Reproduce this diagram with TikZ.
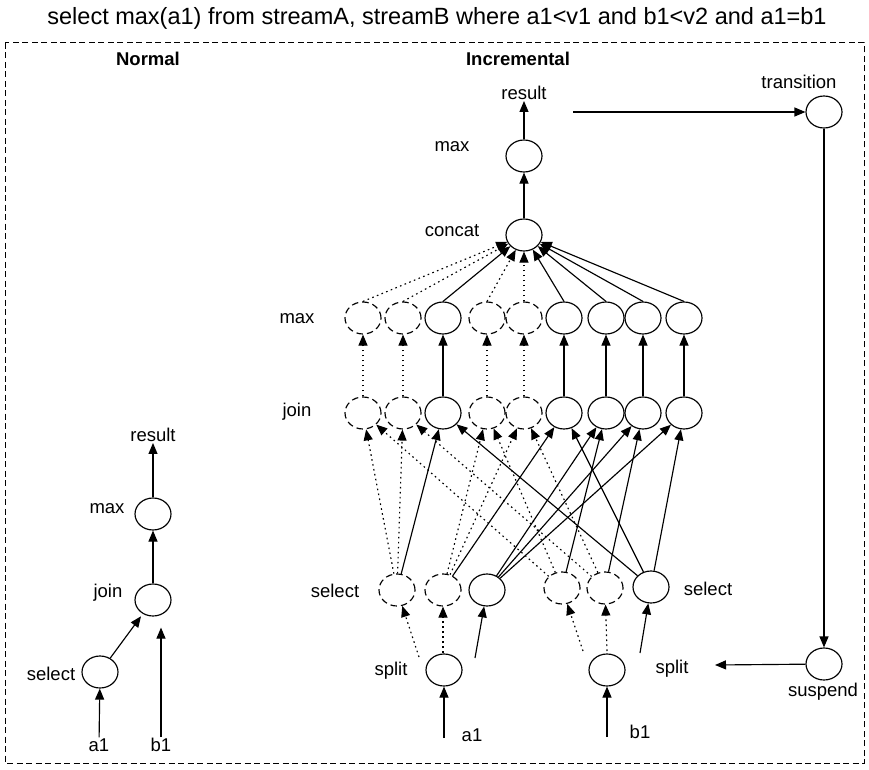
\documentclass[tikz,border=0pt]{standalone}
\usepackage{fontspec}
\setmainfont{Liberation Sans}
\usetikzlibrary{arrows.meta,calc,shapes.geometric}
\begin{document}
\begin{tikzpicture}[x=1pt,y=-1pt,
  op/.style={ellipse,draw,line width=1.15pt,minimum width=36pt,minimum height=32pt,inner sep=0pt},
  idle/.style={op,dash pattern=on 6.5pt off 4pt},
  lbl/.style={font=\fontsize{18.5}{20}\selectfont,inner sep=1pt},
  head/.style={font=\bfseries\fontsize{18.5}{20}\selectfont,inner sep=1pt},
  flow/.style={line width=1.15pt,-{Triangle[length=11pt,width=9pt]}},
  idleflow/.style={flow,dash pattern=on 1.6pt off 3.4pt},
]
\useasboundingbox (0,0) rectangle (869,770);

% query text and dashed frame
\node[font=\fontsize{23.5}{26}\selectfont] (query) at (437,18)
  {select max(a1) from streamA, streamB where a1<v1 and b1<v2 and a1=b1};
\draw[line width=1pt,dash pattern=on 6pt off 3.5pt] (5,43) rectangle (864,763);

\node[head] (hnormal) at (148,59) {Normal};
\node[head] (hincr) at (518,59) {Incremental};

% ---------- normal plan ----------
\node[op] (nmax) at (153,514) {};
\node[op] (njoin) at (153,600) {};
\node[op] (nsel) at (100,672) {};
\node[lbl] (nres) at (153,435) {result};
\node[lbl] (nmaxl) at (107,509) {max};
\node[lbl] (njoinl) at (108,593) {join};
\node[lbl] (nsell) at (51,674) {select};
\node[lbl] (na1) at (99,745) {a1};
\node[lbl] (nb1) at (161,745) {b1};
\draw[flow] (nmax) -- (nres);
\draw[flow] (njoin) -- (nmax);
\draw[flow,shorten >=3pt] (nsel) -- (njoin);
\draw[flow] (na1) -- (nsel);
\draw[flow,shorten >=11pt] (nb1.north) -- (nb1.north |- njoin.south);

% ---------- incremental plan ----------
\node[op] (imax) at (524,156) {};
\node[op] (concat) at (524,235) {};
\node[lbl] (ires) at (524,93) {result};
\node[lbl] (imaxl) at (452,147) {max};
\node[lbl] (concatl) at (452,231) {concat};
\node[lbl] (rowmax) at (297,319) {max};
\node[lbl] (rowjoin) at (297,412) {join};
\draw[flow] (imax) -- (ires);
\draw[flow] (concat) -- (imax);

% partial max operators
\node[idle] (m1) at (363,318) {};
\node[idle] (m2) at (403,318) {};
\node[op]   (m3) at (443,318) {};
\node[idle] (m4) at (487,318) {};
\node[idle] (m5) at (524,318) {};
\node[op]   (m6) at (564,318) {};
\node[op]   (m7) at (606,318) {};
\node[op]   (m8) at (643,318) {};
\node[op]   (m9) at (684,318) {};
% partial joins
\node[idle] (j1) at (363,413) {};
\node[idle] (j2) at (403,413) {};
\node[op]   (j3) at (443,413) {};
\node[idle] (j4) at (487,413) {};
\node[idle] (j5) at (524,413) {};
\node[op]   (j6) at (564,413) {};
\node[op]   (j7) at (606,413) {};
\node[op]   (j8) at (643,413) {};
\node[op]   (j9) at (684,413) {};

\draw[idleflow] (m1.north) -- (concat);
\draw[idleflow] (m2.north) -- (concat);
\draw[flow]     (m3.north) -- (concat);
\draw[idleflow] (m4.north) -- (concat);
\draw[idleflow] (m5.north) -- (concat);
\draw[flow]     (m6.north) -- (concat);
\draw[flow]     (m7.north) -- (concat);
\draw[flow]     (m8.north) -- (concat);
\draw[flow]     (m9.north) -- (concat);

\draw[idleflow] (j1) -- (m1);
\draw[idleflow] (j2) -- (m2);
\draw[flow]     (j3) -- (m3);
\draw[idleflow] (j4) -- (m4);
\draw[idleflow] (j5) -- (m5);
\draw[flow]     (j6) -- (m6);
\draw[flow]     (j7) -- (m7);
\draw[flow]     (j8) -- (m8);
\draw[flow]     (j9) -- (m9);

% selections per partition
\node[idle] (s1) at (397,590) {};
\node[idle] (s2) at (443,590) {};
\node[op]   (s3) at (487,590) {};
\node[idle] (s4) at (562,588) {};
\node[idle] (s5) at (605,588) {};
\node[op]   (s6) at (651,587) {};
\node[lbl] (sell) at (335,591) {select};
\node[lbl] (selr) at (708,589) {select};

\draw[idleflow] (s1) -- (j1);
\draw[idleflow] (s1) -- (j2);
\draw[flow]     (s1) -- (j3);
\draw[idleflow] (s2) -- (j4);
\draw[idleflow] (s2) -- (j5);
\draw[flow]     (s2) -- (j6);
\draw[flow]     (s3) -- (j7);
\draw[flow]     (s3) -- (j8);
\draw[flow]     (s3) -- (j9);
\draw[idleflow] (s4) -- (j1);
\draw[idleflow] (s4) -- (j4);
\draw[flow]     (s4) -- (j7);
\draw[idleflow] (s5) -- (j2);
\draw[idleflow] (s5) -- (j5);
\draw[flow]     (s5) -- (j8);
\draw[flow]     (s6) -- (j3);
\draw[flow]     (s6) -- (j6);
\draw[flow]     (s6) -- (j9);

% splits
\node[op] (sp1) at (444,670) {};
\node[op] (sp2) at (607,670) {};
\node[lbl] (sp1l) at (391,671) {split};
\node[lbl] (sp2l) at (672,669) {split};
\node[lbl] (ia1) at (472,735) {a1};
\node[lbl] (ib1) at (640,732) {b1};
\coordinate (a1in) at (444,738);
\coordinate (b1in) at (607,737);
\draw[flow] (a1in) -- (sp1);
\draw[flow] (b1in) -- (sp2);

\coordinate (sp1a) at ($(sp1)+(-25,-13)$);
\coordinate (sp1b) at ($(sp1)+(-1,-17)$);
\coordinate (sp1c) at ($(sp1)+(31,-12)$);
\coordinate (sp2a) at ($(sp2)+(-24,-19)$);
\coordinate (sp2b) at ($(sp2)+(0,-19)$);
\coordinate (sp2c) at ($(sp2)+(33,-17)$);
\draw[idleflow] (sp1a) -- (s1);
\draw[idleflow] (sp1b) -- (s2);
\draw[flow]     (sp1c) -- (s3);
\draw[idleflow] (sp2a) -- (s4);
\draw[idleflow] (sp2b) -- (s5);
\draw[flow]     (sp2c) -- (s6);

% transition control
\node[op] (trans) at (824,112) {};
\node[lbl] (transl) at (799,82) {transition};
\node[op] (susp) at (824,664) {};
\node[lbl] (suspl) at (823,692) {suspend};
\coordinate (tstart) at (573,112);
\coordinate (send) at (715,665);
\draw[flow] (tstart) -- (trans);
\draw[flow] (trans) -- (susp);
\draw[flow] (susp) -- (send);
\end{tikzpicture}
\end{document}
